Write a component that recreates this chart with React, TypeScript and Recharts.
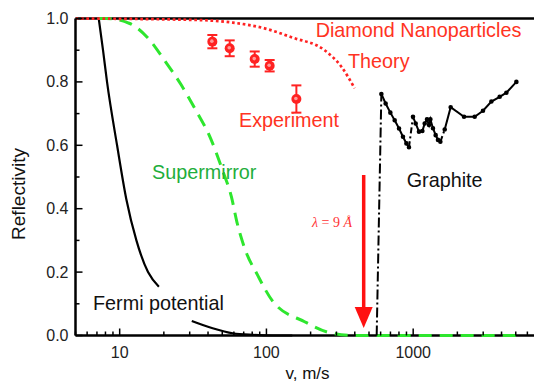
import React from "react";
import { ComposedChart, ErrorBar, Line, ReferenceLine, Scatter, XAxis, YAxis } from "recharts";

// velocities in m/s, reflectivity 0..1
const fermiHigh = [[7.2, 1.0], [7.7, 0.9], [8.2, 0.8], [9.6, 0.6], [11.1, 0.43], [13.0, 0.3], [15.6, 0.2], [18.5, 0.154]];
const fermiLow = [[31, 0.046], [43, 0.023], [59, 0.007], [81, 0.002], [110, 0], [150, 0]];
const superMirror = [
  [7.2, 1.0], [8.1, 1.0], [11.6, 0.985], [15.4, 0.941], [20.5, 0.864], [26.3, 0.79], [33, 0.711], [41, 0.629],
  [50.6, 0.517], [57.7, 0.438], [63, 0.357], [71.1, 0.275], [87.6, 0.188], [110.8, 0.107], [182, 0.0435],
  [280, 0.007], [400, 0], [5000, 0],
];
const theory = [[5, 1.0], [35, 0.995], [59, 0.987], [97, 0.969], [150, 0.94], [249, 0.9], [324, 0.848], [399, 0.78]];

const expV = [42.8, 56.2, 83.2, 105.2, 160];
const expR = [0.927, 0.906, 0.872, 0.851, 0.746];
const expErr = [0.021, 0.025, 0.024, 0.018, 0.043];

const graphiteRise = [[564, 0], [607, 0.762]];
const graphiteA = [[607, 0.762], [649, 0.732], [699, 0.703], [748, 0.679], [801, 0.653], [852, 0.627], [899, 0.606], [936, 0.594]];
const graphiteGap1 = [[936, 0.594], [997, 0.69]];
const graphiteB = [
  [997, 0.69], [1040, 0.669], [1095, 0.643], [1155, 0.645], [1198, 0.669], [1242, 0.682], [1282, 0.664],
  [1310, 0.682], [1364, 0.654], [1423, 0.632], [1476, 0.617], [1532, 0.611],
];
const graphiteGap2 = [[1532, 0.611], [1640, 0.65]];
const graphiteC = [[1640, 0.65], [1801, 0.72], [2220, 0.69], [2625, 0.69], [2991, 0.709], [3411, 0.738], [3886, 0.753], [4316, 0.766], [5049, 0.8]];

const arrowV = 460; // lambda = 9 A
const arrowTop = 0.506;
const arrowTip = 0.024;

const xMajor = [10, 100, 1000];
const xTicks = [5, 6, 7, 8, 9, 10, 20, 30, 40, 50, 60, 70, 80, 90, 100, 200, 300, 400, 500, 600, 700, 800, 900, 1000, 2000, 3000, 4000, 5000, 6000, 7000];
const yTicks = [0, 0.1, 0.2, 0.3, 0.4, 0.5, 0.6, 0.7, 0.8, 0.9, 1.0];

const RED = "#ff2222";
const GREEN = "#2ee62e";

const pts = (arr: number[][]) => arr.map(([v, r]) => ({ v, r }));
const expData = expV.map((v, i) => ({ v, r: expR[i], err: expErr[i] }));

const XTick = (props: any) => {
  const { x, y, payload } = props;
  const major = xMajor.includes(payload.value);
  return (
    <g>
      <line x1={x} x2={x} y1={y} y2={y - (major ? 7 : 4)} stroke="#000" strokeWidth={1.5} />
      {major && (
        <text x={x} y={y + 22.5} textAnchor="middle" fontSize={16} fill="#222">
          {payload.value}
        </text>
      )}
    </g>
  );
};

const YTick = (props: any) => {
  const { x, y, payload } = props;
  const major = Math.round(payload.value * 10) % 2 === 0;
  return (
    <g>
      <line x1={x} x2={x + (major ? 7 : 4)} y1={y} y2={y} stroke="#000" strokeWidth={1.5} />
      {major && (
        <text x={x - 7} y={y + 5.5} textAnchor="end" fontSize={16} fill="#222">
          {payload.value.toFixed(1)}
        </text>
      )}
    </g>
  );
};

const Arrow = (props: any) => {
  const { x1, y1, x2, y2 } = props;
  return (
    <g>
      <line x1={x1} y1={y1} x2={x2} y2={y2 - 20} stroke="#ff1111" strokeWidth={3.5} />
      <polygon points={`${x2 - 9},${y2 - 21} ${x2 + 9},${y2 - 21} ${x2},${y2}`} fill="#ff1111" />
    </g>
  );
};

const ExpDot = (props: any) => {
  const { cx, cy } = props;
  return (
    <g>
      <circle cx={cx} cy={cy} r={5} fill={RED} />
      <circle cx={cx - 0.5} cy={cy - 0.5} r={1.8} fill="#ff9a9a" />
    </g>
  );
};

export default function App() {
  const font = "'Liberation Sans', Arial, sans-serif";
  return (
    <div style={{ position: "absolute", left: 0, top: 0, width: 534, height: 383, overflow: "hidden", background: "#fff", fontFamily: font }}>
      <ComposedChart width={560} height={383} margin={{ top: 18.5, right: 22.8, bottom: 0, left: 0 }}>
        <XAxis
          dataKey="v"
          type="number"
          scale="log"
          domain={[5, 7000]}
          allowDataOverflow
          ticks={xTicks}
          interval={0}
          tick={<XTick />}
          tickLine={false}
          tickSize={0}
          tickMargin={0}
          height={47.5}
          axisLine={false}
        />
        <YAxis
          dataKey="r"
          type="number"
          domain={[0, 1]}
          ticks={yTicks}
          interval={0}
          tick={<YTick />}
          tickLine={false}
          tickSize={0}
          tickMargin={0}
          width={75.5}
          axisLine={{ stroke: "#000", strokeWidth: 2.5 }}
        />
        <ReferenceLine y={1} stroke="#000" strokeWidth={2.5} />
        <ReferenceLine y={0} stroke="#000" strokeWidth={2.5} />
        <Line data={pts(fermiHigh)} dataKey="r" type="monotone" stroke="#000" strokeWidth={2.2} dot={false} isAnimationActive={false} />
        <Line data={pts(fermiLow)} dataKey="r" type="monotone" stroke="#000" strokeWidth={2.2} dot={false} isAnimationActive={false} />
        <Line data={pts(superMirror)} dataKey="r" type="monotone" stroke={GREEN} strokeWidth={3} strokeDasharray="13 8" dot={false} isAnimationActive={false} />
        <Line data={pts(theory)} dataKey="r" type="monotone" stroke={RED} strokeWidth={2.7} strokeDasharray="2.7 2.7" dot={false} isAnimationActive={false} />
        <Line data={pts(graphiteRise)} dataKey="r" stroke="#000" strokeWidth={2} strokeDasharray="10 3 2 3" dot={false} isAnimationActive={false} />
        <Line data={pts(graphiteA)} dataKey="r" stroke="#000" strokeWidth={2} dot={{ r: 1.3, fill: "#000", stroke: "#000" }} isAnimationActive={false} />
        <Line data={pts(graphiteGap1)} dataKey="r" stroke="#000" strokeWidth={2} strokeDasharray="6 3 2 3" dot={false} isAnimationActive={false} />
        <Line data={pts(graphiteB)} dataKey="r" stroke="#000" strokeWidth={2} dot={{ r: 1.3, fill: "#000", stroke: "#000" }} isAnimationActive={false} />
        <Line data={pts(graphiteGap2)} dataKey="r" stroke="#000" strokeWidth={2} strokeDasharray="6 3 2 3" dot={false} isAnimationActive={false} />
        <Line data={pts(graphiteC)} dataKey="r" stroke="#000" strokeWidth={2} dot={{ r: 1.3, fill: "#000", stroke: "#000" }} isAnimationActive={false} />
        <Scatter data={expData} dataKey="r" shape={<ExpDot />} isAnimationActive={false}>
          <ErrorBar dataKey="err" direction="y" width={5} stroke={RED} strokeWidth={2} />
        </Scatter>
        <ReferenceLine
          segment={[{ x: arrowV, y: arrowTop }, { x: arrowV, y: arrowTip }]}
          shape={<Arrow />}
          ifOverflow="visible"
        />
      </ComposedChart>
      <svg width={534} height={383} style={{ position: "absolute", left: 0, top: 0, pointerEvents: "none" }}>
        <g fontFamily={font} fontSize={19.8}>
          <text x={315.7} y={36.5} fill="#ff3322">Diamond Nanoparticles</text>
          <text x={348} y={68} fill="#ff3322">Theory</text>
          <text x={239} y={126.5} fill="#ff3322">Experiment</text>
          <text x={152} y={179} fill="#1fae3c">Supermirror</text>
          <text x={406.7} y={186.5} fill="#111">Graphite</text>
          <text x={93} y={310} fill="#111">Fermi potential</text>
        </g>
        <text x={312} y={227} fill="#ff3333" fontFamily="'Liberation Serif', serif" fontSize={14}>
          <tspan fontStyle="italic">λ</tspan> = 9 <tspan fontStyle="italic">Å</tspan>
        </text>
        <text x={307.5} y={378.5} textAnchor="middle" fontFamily={font} fontSize={17} fill="#111">v, m/s</text>
        <text transform="translate(24.5 194) rotate(-90)" textAnchor="middle" fontFamily={font} fontSize={19} fill="#111">Reflectivity</text>
      </svg>
    </div>
  );
}
